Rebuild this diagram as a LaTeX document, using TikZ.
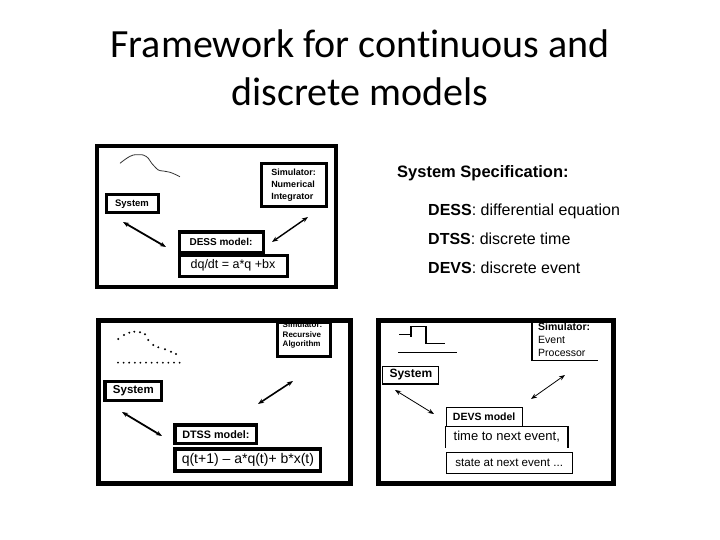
\documentclass[tikz,border=0pt]{standalone}
\usepackage{fontspec}
\setmainfont{Liberation Sans}
\newfontfamily\titlefont[Ligatures=NoCommon]{Carlito}
\usetikzlibrary{arrows.meta}
\newcommand{\fs}[2]{\fontsize{#1}{#2}\selectfont}
\begin{document}
\begin{tikzpicture}[x=1pt,y=-1pt,
  panel/.style={draw, line width=#1, inner sep=0pt, anchor=north west},
  thickbox/.style={draw, line width=3pt, inner sep=0pt, anchor=north west},
  thinbox/.style={draw, line width=1.1pt, inner sep=0pt, anchor=north west},
  openbox/.style={inner sep=0pt, anchor=north west},
  dblarrow/.style={{Stealth[length=6pt,width=4.5pt]}-{Stealth[length=6pt,width=4.5pt]}, line width=#1},
  titletext/.style={font=\titlefont\fs{40}{48}, anchor=base, inner sep=0pt},
  spec/.style={font=\fs{16}{19}, anchor=base west, inner sep=0pt}
]
\useasboundingbox (0,0) rectangle (720,540);
\fill[white] (0,0) rectangle (720,540);

% title
\node[titletext] (title1) at (360,58) {Framework for continuous and};
\node[titletext] (title2) at (360,106) {discrete models};

% system specification list
\node[font=\bfseries\fs{16.5}{19}, anchor=base west, inner sep=0pt] (spechead) at (397,178) {System Specification:};
\node[spec] (dess) at (428,215) {\textbf{DESS}: differential equation};
\node[spec] (dtss) at (428,244) {\textbf{DTSS}: discrete time};
\node[spec] (devs) at (428,273) {\textbf{DEVS}: discrete event};

% ---------------- panel 1 (DESS) ----------------
\node[panel=4pt, minimum width=239pt, minimum height=141pt] (p1) at (95,144) {};
\draw[line width=0.8pt, black!80] plot[smooth] coordinates {(120,163.3) (126.7,158.3) (133.3,155) (143.3,155) (148.3,158.3) (151.7,163.3) (158.3,170) (163.3,171) (170,172.3) (175,174.3) (180,176.7)};
\node[thickbox, minimum width=52pt, minimum height=18pt, font=\bfseries\fs{9.5}{11}] (sys1) at (104.5,193.5) {System};
\node[thickbox, minimum width=65pt, minimum height=43pt, align=left, font=\bfseries\fs{9}{12}] (sim1) at (259.5,162.5) {Simulator:\\Numerical\\Integrator};
\node[thickbox, minimum width=84pt, minimum height=20pt, font=\bfseries\fs{10}{12}] (dessm) at (177.5,230.5) {DESS model:};
\node[thickbox, minimum width=108pt, minimum height=21pt, font=\fs{12.5}{14}] (desseq) at (177.5,253.5) {dq/dt = a*q +bx};
\coordinate (a1s) at (123,222);
\coordinate (a1e) at (166,247);
\coordinate (b1s) at (308,217);
\coordinate (b1e) at (272,242);
\draw[dblarrow=1.8pt] (a1s) -- (a1e);
\draw[dblarrow=1.4pt] (b1s) -- (b1e);

% ---------------- panel 2 (DTSS) ----------------
\node[panel=5pt, minimum width=252pt, minimum height=163pt] (p2) at (95.5,317.5) {};
\foreach \px/\py in {118.3/339, 124/335, 129.3/332.7, 134.3/331.7, 140/332.3, 145/334.3, 148.3/340, 153.3/345, 158.3/347.3, 165/349.3, 171/351.7, 176/354}
  \fill (\px,\py) circle (1.1pt);
\foreach \px in {118,123.6,...,181}
  \fill (\px,362.7) circle (1.0pt);
\node[thickbox, line width=3.3pt, minimum width=56.7pt, minimum height=19pt, font=\bfseries\fs{11.5}{13}] (sys2) at (103.4,380) {System};
\node[thickbox, line width=3.3pt, minimum width=53pt, minimum height=34pt] (sim2) at (276,320.7) {};
\node[anchor=north, inner sep=0pt, align=left, font=\bfseries\fs{8}{9.5}] (sim2t) at (302.5,322) {Simulator:\\Recursive\\Algorithm};
\node[thickbox, line width=3.3pt, minimum width=81.7pt, minimum height=18.3pt, font=\bfseries\fs{10.8}{12}] (dtssm) at (173.4,423.4) {DTSS model:};
\node[thickbox, line width=3.3pt, minimum width=145.7pt, minimum height=22pt, font=\fs{14}{16}] (dtsseq) at (173.4,447.4) {q(t+1) – a*q(t)+ b*x(t)};
\coordinate (a2s) at (122,412);
\coordinate (a2e) at (162,436);
\coordinate (b2s) at (293,381);
\coordinate (b2e) at (258,404);
\draw[dblarrow=1.8pt] (a2s) -- (a2e);
\draw[dblarrow=1.6pt] (b2s) -- (b2e);

% ---------------- panel 3 (DEVS) ----------------
\node[panel=5pt, minimum width=235pt, minimum height=163pt] (p3) at (375.5,317.5) {};
\draw[line width=1.4pt] (399,334.3) -- (411,334.3);
\draw[line width=1.4pt] (411,336.5) -- (411,326.7) -- (426,326.7) -- (426,343.3) -- (445,343.3);
\draw[line width=1.4pt] (398.3,352.3) -- (456.7,352.3);
\node[openbox, minimum width=66pt, minimum height=42pt] (sim3) at (532,318) {};
\draw[line width=1.1pt] (sim3.north west) -- (sim3.south west) -- (sim3.south east);
\node[anchor=north west, inner sep=0pt, align=left, font=\fs{10.5}{13}] (sim3t) at (538,323) {\textbf{Simulator:}\\Event\\Processor};
\node[thinbox, minimum width=56pt, minimum height=17.8pt, font=\bfseries\fs{12}{14}] (sys3) at (382.3,365.6) {System};
\node[thinbox, minimum width=76pt, minimum height=19pt, font=\bfseries\fs{10.5}{12}] (devsm) at (445.6,406.6) {DEVS model};
\node[openbox, minimum width=122pt, minimum height=20.5pt, font=\fs{13}{15}] (devst) at (445.6,426.6) {time to next event,};
\draw[line width=1.1pt] (devst.south west) -- (devst.north west) -- (devst.north east) -- (devst.south east);
\node[thinbox, minimum width=126pt, minimum height=21pt, font=\fs{11.6}{13}] (devss) at (445.6,451.6) {state at next event ...};
\coordinate (a3s) at (395,390);
\coordinate (a3e) at (434,414);
\coordinate (b3s) at (565,375);
\coordinate (b3e) at (531,399);
\draw[dblarrow=0.8pt] (a3s) -- (a3e);
\draw[dblarrow=0.8pt] (b3s) -- (b3e);
\end{tikzpicture}
\end{document}
